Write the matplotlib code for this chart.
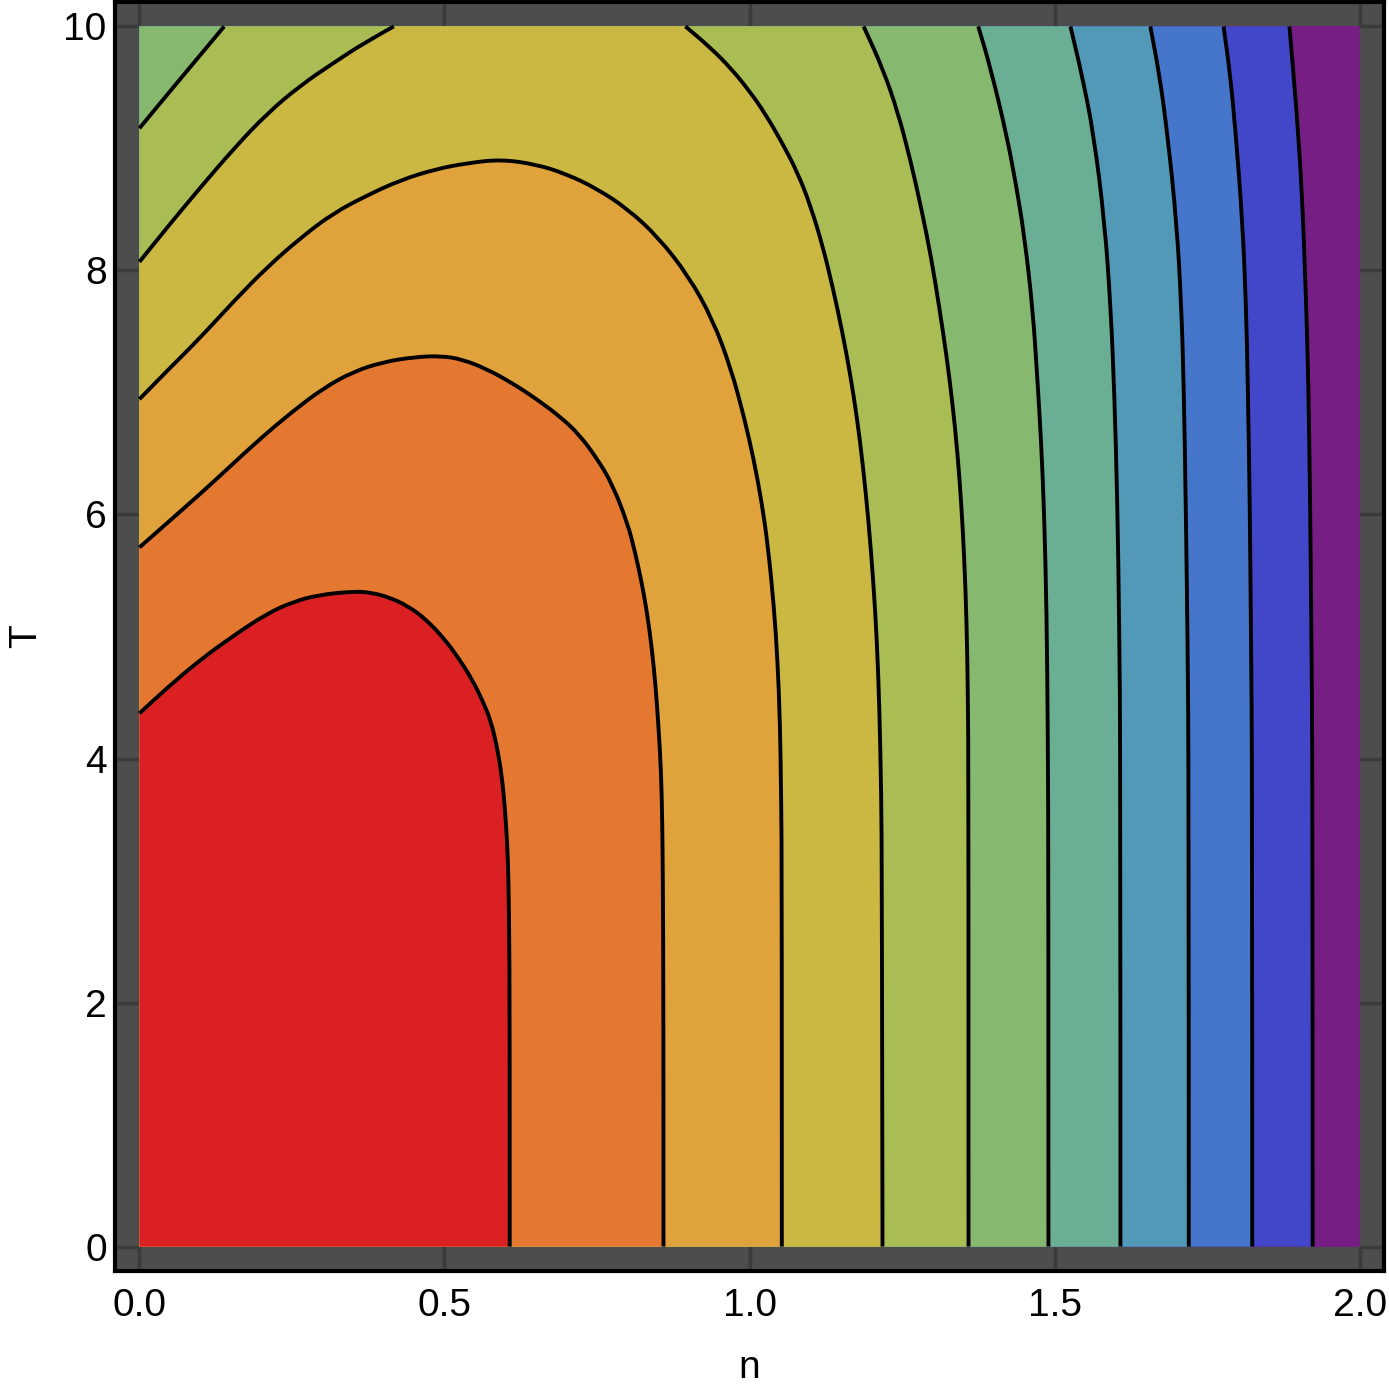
import matplotlib.pyplot as plt
from matplotlib.patches import PathPatch, Rectangle
from matplotlib.path import Path

plt.rcParams['font.family'] = ['Liberation Sans', 'DejaVu Sans']

# contour lines, as (n, T) points
line1 = [(0, 4.37), (0.05, 4.60), (0.10, 4.81), (0.155, 5.01), (0.21, 5.19), (0.25, 5.28),
         (0.292, 5.34), (0.351, 5.37), (0.38, 5.36), (0.41, 5.32), (0.44, 5.25), (0.47, 5.14),
         (0.50, 4.98), (0.525, 4.81), (0.545, 4.65), (0.562, 4.48), (0.576, 4.31), (0.586, 4.10),
         (0.594, 3.86), (0.599, 3.60), (0.603, 3.30), (0.605, 3.00), (0.606, 2.6), (0.607, 2.0),
         (0.607, 0)]
line2 = [(0, 5.73), (0.05, 5.95), (0.10, 6.17), (0.15, 6.40), (0.20, 6.63), (0.25, 6.84),
         (0.30, 7.03), (0.35, 7.17), (0.40, 7.25), (0.45, 7.29), (0.495, 7.30), (0.53, 7.27),
         (0.57, 7.19), (0.61, 7.08), (0.65, 6.95), (0.69, 6.80), (0.72, 6.66), (0.75, 6.46),
         (0.775, 6.25), (0.80, 5.93), (0.812, 5.70), (0.823, 5.45), (0.832, 5.20), (0.840, 4.90),
         (0.846, 4.60), (0.851, 4.25), (0.855, 3.90), (0.857, 3.5), (0.858, 3.0), (0.859, 2.0),
         (0.859, 0)]
line3 = [(0, 6.945), (0.05, 7.20), (0.10, 7.45), (0.155, 7.75), (0.21, 8.03), (0.265, 8.27),
         (0.318, 8.47), (0.375, 8.62), (0.428, 8.74), (0.485, 8.83), (0.538, 8.88), (0.592, 8.91),
         (0.65, 8.87), (0.70, 8.79), (0.75, 8.67), (0.80, 8.505), (0.85, 8.275), (0.90, 7.955),
         (0.94, 7.595), (0.97, 7.19), (0.991, 6.80), (1.007, 6.45), (1.020, 6.10), (1.030, 5.75),
         (1.040, 5.25), (1.046, 4.80), (1.050, 4.30), (1.052, 3.66), (1.053, 3.0), (1.053, 0)]
line4_left = [(0, 8.07), (0.05, 8.38), (0.10, 8.68), (0.155, 9.00), (0.21, 9.29), (0.265, 9.52),
              (0.318, 9.70), (0.37, 9.87), (0.417, 10.0)]
line4_right = [(0.895, 10.0), (0.935, 9.83), (0.969, 9.66), (1.000, 9.47), (1.025, 9.29),
               (1.052, 9.06), (1.079, 8.80), (1.10, 8.53), (1.12, 8.20), (1.137, 7.85),
               (1.152, 7.50), (1.165, 7.15), (1.176, 6.80), (1.186, 6.40), (1.195, 5.95),
               (1.203, 5.45), (1.209, 4.95), (1.213, 4.40), (1.216, 3.70), (1.217, 3.0),
               (1.218, 0)]
line5_left = [(0, 9.165), (0.067, 9.57), (0.139, 10.0)]
line5_right = [(1.187, 10.0), (1.218, 9.66), (1.243, 9.30), (1.264, 8.90), (1.282, 8.50),
               (1.298, 8.10), (1.311, 7.70), (1.323, 7.30), (1.333, 6.90), (1.341, 6.50),
               (1.347, 6.10), (1.352, 5.65), (1.356, 5.10), (1.358, 4.50), (1.359, 3.8),
               (1.359, 0)]
line6 = [(1.375, 10.0), (1.395, 9.66), (1.421, 9.12), (1.437, 8.70), (1.450, 8.30), (1.464, 7.70),
         (1.472, 7.10), (1.478, 6.60), (1.483, 6.01), (1.487, 5.20), (1.489, 4.2), (1.490, 3.0),
         (1.490, 0)]
line7 = [(1.526, 10.0), (1.545, 9.60), (1.564, 9.12), (1.582, 8.40), (1.592, 7.70), (1.598, 7.00),
         (1.603, 6.10), (1.606, 5.10), (1.608, 4.0), (1.608, 0)]
line8 = [(1.657, 10.0), (1.672, 9.60), (1.685, 9.12), (1.700, 8.40), (1.708, 7.70), (1.712, 7.00),
         (1.715, 6.10), (1.718, 5.00), (1.720, 3.8), (1.720, 0)]
line9 = [(1.777, 10.0), (1.788, 9.60), (1.797, 9.12), (1.808, 8.40), (1.814, 7.70), (1.817, 7.00),
         (1.820, 6.10), (1.822, 5.00), (1.824, 3.8), (1.824, 0)]
line10 = [(1.885, 10.0), (1.897, 9.30), (1.906, 8.60), (1.912, 7.80), (1.916, 7.10), (1.919, 6.10),
          (1.921, 5.00), (1.923, 3.8), (1.923, 0)]

region_colors = ['#da2022', '#e47831', '#e0a23b', '#cbb843', '#aabd55', '#86b96f',
                 '#6aaf94', '#5299b8', '#4676cc', '#4147c8', '#771e85']

x_ticks = [0.0, 0.5, 1.0, 1.5, 2.0]
y_ticks = [0, 2, 4, 6, 8, 10]


def smooth_segments(pts):
    # quadratic bezier path through the read points (points used as control points)
    verts = [pts[0]]
    codes = [Path.LINETO]
    if len(pts) > 2:
        verts.append(((pts[0][0] + pts[1][0]) / 2, (pts[0][1] + pts[1][1]) / 2))
        codes.append(Path.LINETO)
        for i in range(1, len(pts) - 1):
            if i == len(pts) - 2:
                nxt = pts[i + 1]
            else:
                nxt = ((pts[i][0] + pts[i + 1][0]) / 2, (pts[i][1] + pts[i + 1][1]) / 2)
            verts += [pts[i], nxt]
            codes += [Path.CURVE3, Path.CURVE3]
    else:
        verts.append(pts[1])
        codes.append(Path.LINETO)
    return verts, codes


def region_path(parts):
    verts, codes = [], []
    for part in parts:
        if isinstance(part, list):
            v, c = smooth_segments(part)
        else:
            v, c = [part], [Path.LINETO]
        verts += v
        codes += c
    codes[0] = Path.MOVETO
    verts.append(verts[0])
    codes.append(Path.CLOSEPOLY)
    return Path(verts, codes)


fig = plt.figure(figsize=(13.89, 13.90), dpi=100)
ax = fig.add_axes([115 / 1389, 119 / 1390, 1269 / 1389, 1269 / 1390])
ax.set_facecolor('#4d4d4d')
ax.set_xlim(-0.04, 2.04)
ax.set_ylim(-0.2, 10.2)

# paint from the highest level down, each shape = everything left of a contour
ax.add_patch(Rectangle((0, 0), 2, 10, facecolor=region_colors[10], edgecolor='none', zorder=1))
for k, line in zip([9, 8, 7, 6, 5], [line10, line9, line8, line7, line6]):
    p = region_path([(0, 10), line, (0, 0)])
    ax.add_patch(PathPatch(p, facecolor=region_colors[k], edgecolor='none', zorder=1))
for k, (left, right) in zip([4, 3], [(line5_left, line5_right), (line4_left, line4_right)]):
    p = region_path([left, right, (0, 0)])
    ax.add_patch(PathPatch(p, facecolor=region_colors[k], edgecolor='none', zorder=1))
for k, line in zip([2, 1, 0], [line3, line2, line1]):
    p = region_path([line, (0, 0)])
    ax.add_patch(PathPatch(p, facecolor=region_colors[k], edgecolor='none', zorder=1))

for line in [line1, line2, line3, line4_left, line4_right, line5_left, line5_right,
             line6, line7, line8, line9, line10]:
    v, c = smooth_segments(line)
    c[0] = Path.MOVETO
    ax.add_patch(PathPatch(Path(v, c), facecolor='none', edgecolor='black', lw=2.8,
                           capstyle='butt', zorder=2))

ax.set_axisbelow(True)
ax.set_xticks(x_ticks)
ax.set_xticklabels([f'{v:.1f}' for v in x_ticks])
ax.set_yticks(y_ticks)
ax.set_yticklabels([str(v) for v in y_ticks])
ax.tick_params(direction='in', length=18, width=2.5, color='#3b3b3b', labelsize=28,
               top=True, right=True)
ax.tick_params(axis='x', pad=12)
ax.tick_params(axis='y', pad=6)

for s in ax.spines.values():
    s.set_linewidth(3)
    s.set_color('black')

ax.set_xlabel('n', fontsize=28, labelpad=19)
ax.set_ylabel('T', fontsize=28, labelpad=14)

plt.savefig('out.png', dpi=100)
